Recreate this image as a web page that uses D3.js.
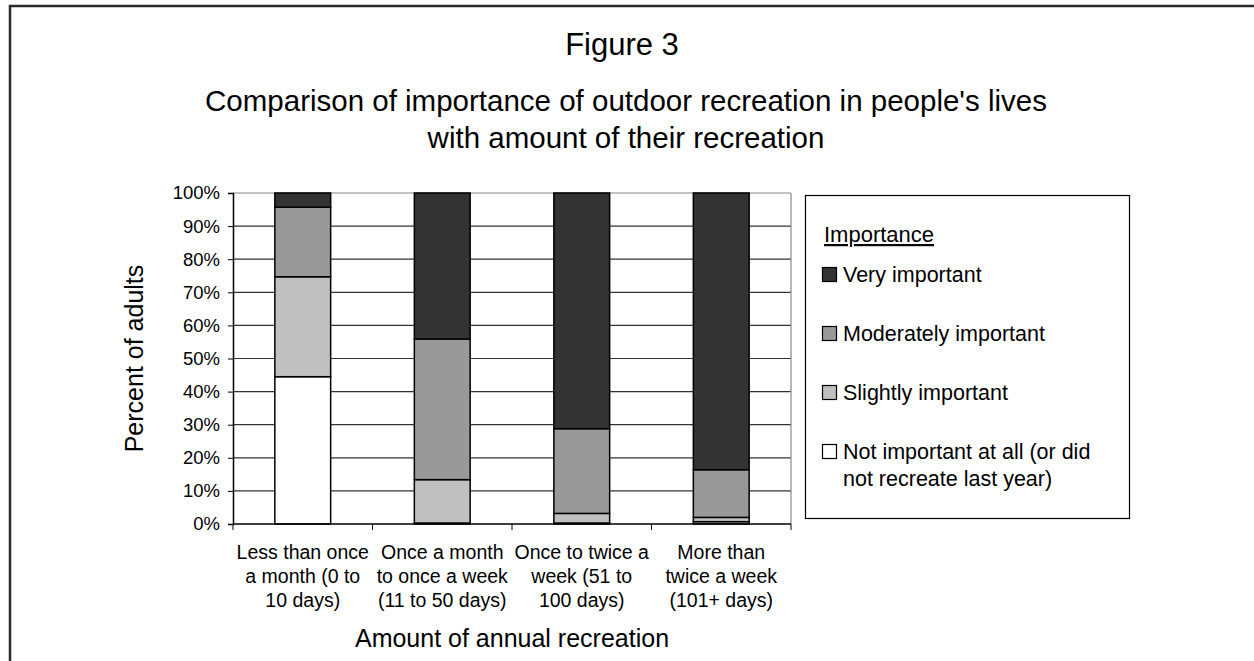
<!DOCTYPE html>
<html>
<head>
<meta charset="utf-8">
<script src="https://cdn.jsdelivr.net/npm/d3@7"></script>
<style>
  body { margin: 0; background: #fff; }
  text { font-family: "Liberation Sans", Arial, sans-serif; fill: #000; }
</style>
</head>
<body>
<svg></svg>
<script>
const categories = [
  ['Less than once', 'a month (0 to', '10 days)'],
  ['Once a month', 'to once a week', '(11 to 50 days)'],
  ['Once to twice a', 'week (51 to', '100 days)'],
  ['More than', 'twice a week', '(101+ days)']
];
const notImportant = [44.5, 0.3, 0.3, 0.7];
const slightly     = [30.2, 13.1, 2.9, 1.3];
const moderately   = [21.0, 42.5, 25.6, 14.4];
const very         = [4.3, 44.1, 71.2, 83.6];
const seriesNames = ['Not important at all (or did not recreate last year)',
                     'Slightly important', 'Moderately important', 'Very important'];
const yTicks = [0, 10, 20, 30, 40, 50, 60, 70, 80, 90, 100];

const width = 1254;
const height = 661;
const plot = {left: 233, right: 791, top: 193, bottom: 524};
const colors = ['#ffffff', '#c0c0c0', '#999999', '#333333'];

const svg = d3.select('svg')
    .attr('width', width)
    .attr('height', height);

// outer frame (runs off the right and bottom edges)
svg.append('rect')
    .attr('x', 10).attr('y', 6)
    .attr('width', width + 20).attr('height', height + 20)
    .attr('fill', 'none')
    .attr('stroke', '#2b2b2b')
    .attr('stroke-width', 2.5);

svg.append('text')
    .attr('x', 622).attr('y', 55)
    .attr('text-anchor', 'middle')
    .style('font-size', '31px')
    .text('Figure 3');

svg.append('text')
    .attr('text-anchor', 'middle')
    .style('font-size', '29.5px')
  .selectAll('tspan')
  .data(["Comparison of importance of outdoor recreation in people's lives",
         'with amount of their recreation'])
  .enter().append('tspan')
    .attr('x', 626)
    .attr('y', (d, i) => 111 + i * 37)
    .text(d => d);

const x = d3.scaleBand()
    .domain(d3.range(categories.length))
    .range([plot.left, plot.right]);
const y = d3.scaleLinear()
    .domain([0, 100])
    .range([plot.bottom, plot.top]);

// gridlines
svg.append('g')
  .selectAll('line')
  .data(yTicks.slice(1))
  .enter().append('line')
    .attr('x1', plot.left).attr('x2', plot.right)
    .attr('y1', d => y(d)).attr('y2', d => y(d))
    .attr('stroke', d => d === 100 ? '#888' : '#333')
    .attr('stroke-width', 1.2);

// right plot border
svg.append('line')
    .attr('x1', plot.right).attr('x2', plot.right)
    .attr('y1', plot.top).attr('y2', plot.bottom)
    .attr('stroke', '#888')
    .attr('stroke-width', 1.2);

// stacked bars
const rows = categories.map((c, i) => ({
  i: i, s0: notImportant[i], s1: slightly[i], s2: moderately[i], s3: very[i]
}));
const stack = d3.stack().keys(['s0', 's1', 's2', 's3'])(rows);
const barW = x.bandwidth() * 0.4;

svg.append('g')
  .selectAll('g')
  .data(stack)
  .enter().append('g')
    .attr('fill', (d, k) => colors[k])
  .selectAll('rect')
  .data(d => d)
  .enter().append('rect')
    .attr('x', d => x(d.data.i) + (x.bandwidth() - barW) / 2)
    .attr('width', barW)
    .attr('y', d => y(d[1]))
    .attr('height', d => y(d[0]) - y(d[1]))
    .attr('stroke', '#000')
    .attr('stroke-width', 1.5);

// y axis
const yAxis = svg.append('g')
    .attr('transform', `translate(${plot.left},0)`)
    .call(d3.axisLeft(y).tickValues(yTicks).tickFormat(d => d + '%').tickSize(5).tickPadding(8));
yAxis.select('.domain').attr('stroke', '#000').attr('stroke-width', 1.5);
yAxis.selectAll('.tick line').attr('stroke', '#000');
yAxis.selectAll('.tick text')
    .style('font-size', '18.5px')
    .style('font-family', '"Liberation Sans", Arial, sans-serif');

// x axis with ticks between categories
const xAxis = svg.append('g')
    .attr('transform', `translate(0,${plot.bottom})`);
xAxis.append('line')
    .attr('x1', plot.left).attr('x2', plot.right)
    .attr('stroke', '#000').attr('stroke-width', 1.5);
xAxis.selectAll('.sep')
  .data(d3.range(categories.length + 1))
  .enter().append('line')
    .attr('x1', i => i < categories.length ? x(i) : plot.right)
    .attr('x2', i => i < categories.length ? x(i) : plot.right)
    .attr('y1', 0).attr('y2', 6)
    .attr('stroke', '#000');

svg.append('g')
  .selectAll('text')
  .data(categories)
  .enter().append('text')
    .attr('text-anchor', 'middle')
    .style('font-size', '19.5px')
  .each(function (lines, i) {
    d3.select(this).selectAll('tspan')
      .data(lines)
      .enter().append('tspan')
        .attr('x', x(i) + x.bandwidth() / 2)
        .attr('y', (d, j) => 559 + j * 24)
        .text(d => d);
  });

svg.append('text')
    .attr('x', (plot.left + plot.right) / 2)
    .attr('y', 647)
    .attr('text-anchor', 'middle')
    .style('font-size', '25px')
    .text('Amount of annual recreation');

svg.append('text')
    .attr('transform', `translate(143,${(plot.top + plot.bottom) / 2}) rotate(-90)`)
    .attr('text-anchor', 'middle')
    .style('font-size', '25px')
    .text('Percent of adults');

// legend
const legend = svg.append('g');
legend.append('rect')
    .attr('x', 805.5).attr('y', 195.5)
    .attr('width', 324).attr('height', 323)
    .attr('fill', '#fff')
    .attr('stroke', '#000')
    .attr('stroke-width', 1.2);
legend.append('text')
    .attr('x', 824).attr('y', 242)
    .style('font-size', '22px')
    .style('text-decoration', 'underline')
    .text('Importance');

const legendOrder = [3, 2, 1, 0];
const legendLines = {
  3: ['Very important'],
  2: ['Moderately important'],
  1: ['Slightly important'],
  0: ['Not important at all (or did', 'not recreate last year)']
};
legendOrder.forEach((k, r) => {
  const base = 282 + r * 59;
  legend.append('rect')
      .attr('x', 822.5).attr('y', base - 14.5)
      .attr('width', 14).attr('height', 14)
      .attr('fill', colors[k])
      .attr('stroke', '#000')
      .attr('stroke-width', 1.2);
  legend.append('text')
      .style('font-size', '21.5px')
      .attr('aria-label', seriesNames[k])
    .selectAll('tspan')
    .data(legendLines[k])
    .enter().append('tspan')
      .attr('x', 843)
      .attr('y', (d, j) => base + j * 27)
      .text(d => d);
});
</script>
</body>
</html>
